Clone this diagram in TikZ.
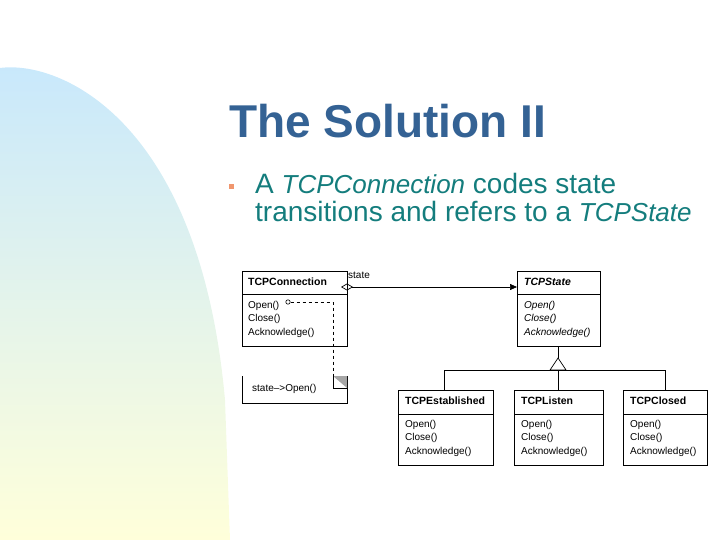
\documentclass[tikz,border=0pt]{standalone}
\usepackage{fontspec}
\setmainfont{Liberation Sans}
\usetikzlibrary{arrows.meta}
\definecolor{titleblue}{RGB}{52,98,148}
\definecolor{bodyteal}{RGB}{20,125,125}
\definecolor{bulorange}{RGB}{240,150,110}
\definecolor{bgblue}{RGB}{200,232,252}
\definecolor{bgyellow}{RGB}{255,255,218}
\begin{document}
\begin{tikzpicture}[x=1pt,y=-1pt,
  cls/.style={draw,line width=0.7pt},
  txt/.style={anchor=west,inner sep=0pt,font=\fontsize{10}{12}\selectfont},
  btxt/.style={anchor=west,inner sep=0pt,font=\fontsize{10.5}{12}\selectfont\bfseries}]
\useasboundingbox (0,0) rectangle (720,540);
\shade[top color=bgblue,bottom color=bgyellow,middle color=bgyellow!50!bgblue]
  (0,68) .. controls (60,60) and (200,120) .. (225,400) -- (230,540) -- (0,540) -- cycle;
\node[anchor=base west,inner sep=0pt,text=titleblue,font=\fontsize{46}{50}\selectfont\bfseries] (title) at (229,138) {The Solution II};
\node[fill=bulorange,minimum size=5pt,inner sep=0pt] (bul) at (231,187) {};
\node[anchor=base west,inner sep=0pt,text=bodyteal,font=\fontsize{28}{32}\selectfont] (l1) at (255,194) {A \textit{\fontsize{26}{30}\selectfont TCPConnection} codes state};
\node[anchor=base west,inner sep=0pt,text=bodyteal,font=\fontsize{28}{32}\selectfont] (l2) at (255,222) {transitions and refers to a \textit{\fontsize{26}{30}\selectfont TCPState}};
% TCPConnection
\draw[cls] (242,271) rectangle (347,346); \draw[cls] (242,294) -- (347,294);
\node[btxt] (c1) at (248,282) {TCPConnection};
\node[txt] (c2) at (248,306) {Open()};
\node[txt] (c3) at (248,319) {Close()};
\node[txt] (c4) at (248,333) {Acknowledge()};
% note
\draw[cls] (242,376) -- (242,403) -- (347,403) -- (347,376);
\fill[gray!70] (333,376) -- (347,376) -- (347,388) -- cycle;
\draw[line width=0.6pt] (333,376) -- (333,388) -- (347,388);
\node[txt] (n1) at (252,389) {state-->Open()};
\coordinate (nc) at (333,383);
\draw[line width=0.6pt] (288,302) circle (2.2pt);
\draw[dashed,line width=0.6pt] (290.5,302) -- (333,302) -- (nc);
% TCPState
\draw[cls] (517,271) rectangle (600,346); \draw[cls] (517,294) -- (600,294);
\node[btxt,font=\fontsize{10.5}{12}\selectfont\bfseries\itshape] (s1) at (524,282) {TCPState};
\node[txt,font=\fontsize{10}{12}\selectfont\itshape] (s2) at (524,306) {Open()};
\node[txt,font=\fontsize{10}{12}\selectfont\itshape] (s3) at (524,319) {Close()};
\node[txt,font=\fontsize{10}{12}\selectfont\itshape] (s4) at (524,333) {Acknowledge()};
\coordinate (a0) at (341,287); \coordinate (a1) at (517,287);
\draw[line width=0.7pt,{Diamond[open,length=12pt,width=7pt]}-{Triangle[length=7pt,width=6pt]}] (a0) -- (a1);
\node[txt] (st) at (348,275) {state};
% inheritance
\draw[cls] (558,346) -- (558,358);
\draw[cls,fill=white] (558,358) -- (550,370) -- (566,370) -- cycle;
\draw[cls] (444,390) -- (444,370) -- (665,370) -- (665,390);
\draw[cls] (558,370) -- (558,390);
% subclasses
\foreach \xa/\xb/\nm/\ll in {398/493/TCPEstablished/e,514/603/TCPListen/l,623/707/TCPClosed/c}{
  \draw[cls] (\xa,390) rectangle (\xb,465); \draw[cls] (\xa,414) -- (\xb,414);
  \node[btxt] (\ll h) at (\xa+7,401) {\nm};
  \node[txt] (\ll o) at (\xa+7,425) {Open()};
  \node[txt] (\ll c) at (\xa+7,438) {Close()};
  \node[txt] (\ll a) at (\xa+7,452) {Acknowledge()};
}
\end{tikzpicture}
\end{document}
